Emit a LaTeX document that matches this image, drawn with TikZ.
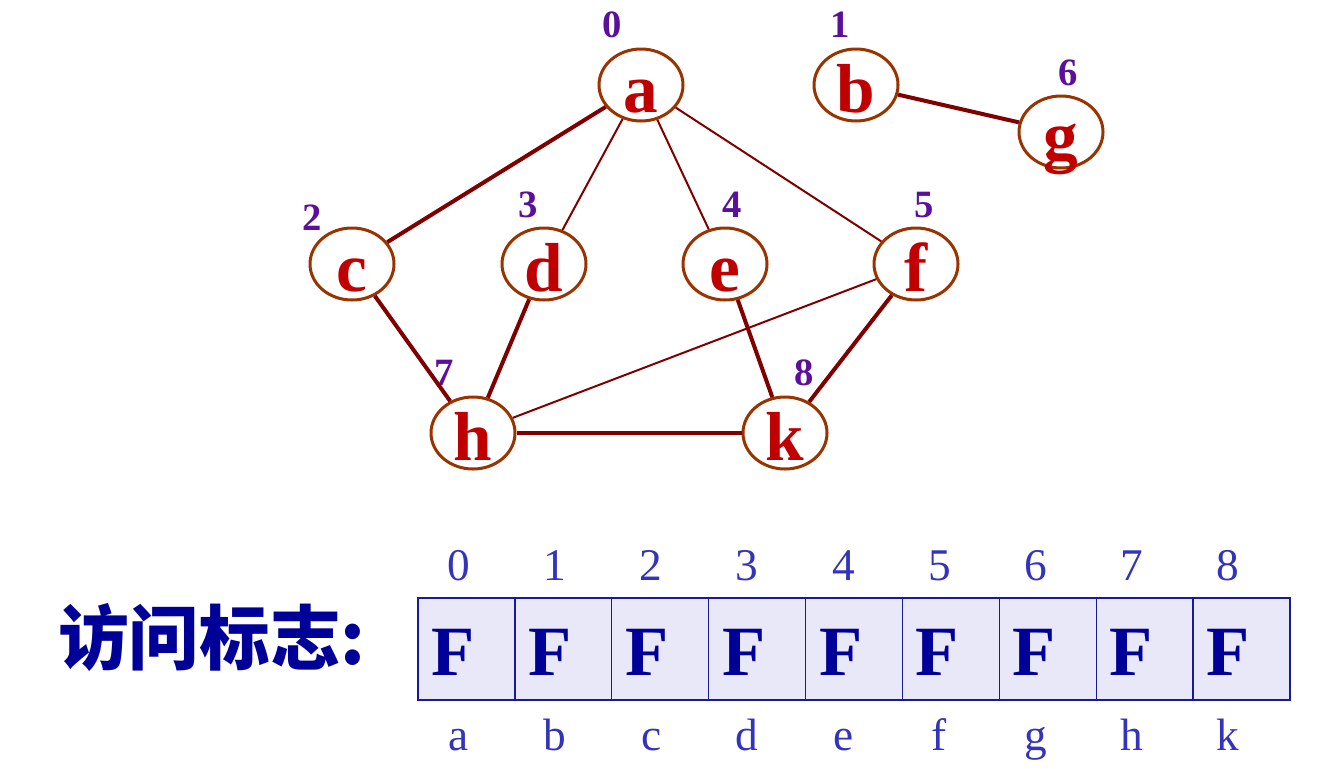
\documentclass[tikz,border=0pt]{standalone}
\usepackage{fontspec}
\setmainfont{Liberation Serif}
\newfontfamily\cjk{Noto Sans CJK SC}
\usetikzlibrary{shapes.geometric}
\definecolor{nodetxt}{HTML}{C00000}
\definecolor{nodebd}{HTML}{993300}
\definecolor{edgec}{HTML}{800000}
\definecolor{idxc}{HTML}{5B0F9B}
\definecolor{tblue}{HTML}{3333BB}
\definecolor{fblue}{HTML}{000099}
\definecolor{cellfill}{HTML}{E8E8F8}
\definecolor{cellbd}{HTML}{1A1A99}
\tikzset{
  vtx/.style={ellipse,draw=nodebd,line width=2.25pt,minimum width=63pt,minimum height=54pt,inner sep=0pt,text=nodetxt,font=\fontsize{52}{52}\selectfont\bfseries},
  lett/.style={text=nodetxt,font=\fontsize{52}{52}\selectfont\bfseries,anchor=base,inner sep=0pt},
  idx/.style={text=idxc,font=\fontsize{29}{29}\selectfont\bfseries},
  thick edge/.style={edgec,line width=3pt},
  thin edge/.style={edgec,line width=1.5pt},
  cell/.style={draw=cellbd,fill=cellfill,line width=1pt,minimum width=72.6pt,minimum height=76.5pt,inner sep=0pt},
  ftxt/.style={text=fblue,font=\fontsize{53}{53}\selectfont\bfseries},
  tidx/.style={text=tblue,font=\fontsize{34}{34}\selectfont,anchor=base}
}
\begin{document}
\begin{tikzpicture}[x=0.75pt,y=-0.75pt]
\useasboundingbox (0,0) rectangle (1330,768);
\foreach \n/\x/\y in {a/641/85,b/856/85,g/1061/132,c/352/264,d/544/264,e/725/264,f/916/264,h/473/433,k/785/433}{
  \node[vtx] (\n) at (\x,\y) {};
  \node[lett] (L\n) at (\x,\y+27) {\n};
}
\node[idx] (i0) at (612,25) {0};
\node[idx] (i1) at (840,25) {1};
\node[idx] (i6) at (1068,73) {6};
\node[idx] (i2) at (312,218) {2};
\node[idx] (i3) at (528,205) {3};
\node[idx] (i4) at (732,205) {4};
\node[idx] (i5) at (924,205) {5};
\node[idx] (i7) at (444,373) {7};
\node[idx] (i8) at (804,373) {8};
\draw[thick edge] (a) -- (c);
\draw[thick edge] (b) -- (g);
\draw[thick edge] (c) -- (h);
\draw[thick edge] (d) -- (h);
\draw[thick edge] (h) -- (k);
\draw[thick edge] (e) -- (k);
\draw[thick edge] (f) -- (k);
\draw[thin edge] (a) -- (d);
\draw[thin edge] (a) -- (e);
\draw[thin edge] (a) -- (f);
\draw[thin edge] (f) -- (h);
\node[text=fblue,font=\cjk\fontsize{53}{53}\selectfont\bfseries] (lbl) at (212,637) {访问标志:};
\foreach \i/\l in {0/a,1/b,2/c,3/d,4/e,5/f,6/g,7/h,8/k}{
  \node[cell] (cell\i) at ({418+48.4+96.9*\i},649) {};
  \node[ftxt] (F\i) at ({453+96.9*\i},652) {F};
  \node[tidx] (t\i) at ({459+96.1*\i},580) {\i};
  \node[tidx] (b\i) at ({459+96.1*\i},750) {\l};
}
\end{tikzpicture}
\end{document}
